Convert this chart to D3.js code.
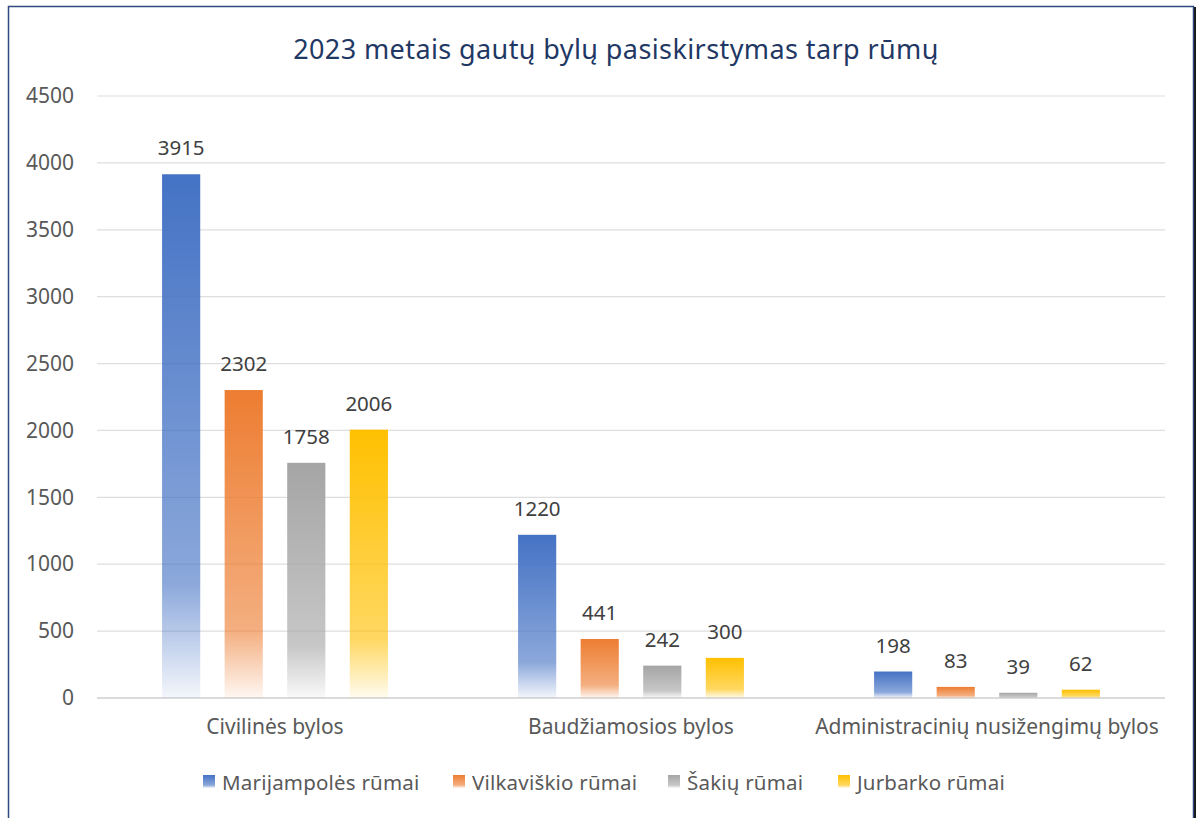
<!DOCTYPE html>
<html lang="lt">
<head>
<meta charset="UTF-8">
<title>2023 metais gautų bylų pasiskirstymas tarp rūmų</title>
<script src="https://d3js.org/d3.v7.min.js"></script>
<style>
body { margin: 0; background: #fff; }
svg { display: block; font-family: "Noto Sans", "Open Sans", sans-serif; }
</style>
</head>
<body>
<svg id="chart" width="1197" height="818"></svg>
<script>
// duomenys
const categories = ["Civilinės bylos", "Baudžiamosios bylos", "Administracinių nusižengimų bylos"];
const seriesNames = ["Marijampolės rūmai", "Vilkaviškio rūmai", "Šakių rūmai", "Jurbarko rūmai"];
const seriesColors = ["#4472C4", "#ED7D31", "#A5A5A5", "#FFC000"];
const marijampole = [3915, 1220, 198];
const vilkaviskis = [2302, 441, 83];
const sakiai = [1758, 242, 39];
const jurbarkas = [2006, 300, 62];
const yTicks = [0, 500, 1000, 1500, 2000, 2500, 3000, 3500, 4000, 4500];

const values = [marijampole, vilkaviskis, sakiai, jurbarkas];

const width = 1197, height = 818;
const margin = {top: 96, right: 32, bottom: 120, left: 97};
const fontFam = "'Noto Sans', 'Open Sans', sans-serif";

const svg = d3.select("#chart");

// remelis
svg.append("rect")
    .attr("x", 8.5).attr("y", 6.5)
    .attr("width", 1185).attr("height", 840)
    .attr("fill", "#fff")
    .attr("stroke", "#2F4A7E")
    .attr("stroke-width", 1.5);
svg.append("line")
    .attr("x1", 1195).attr("x2", 1195).attr("y1", 7).attr("y2", 818)
    .attr("stroke", "#1a1a1a").attr("stroke-width", 2);

// gradientai
const defs = svg.append("defs");
seriesColors.forEach((c, i) => {
    const g = defs.append("linearGradient")
        .attr("id", "grad" + i)
        .attr("x1", 0).attr("y1", 0).attr("x2", 0).attr("y2", 1);
    g.append("stop").attr("offset", "0%").attr("stop-color", c).attr("stop-opacity", 1);
    g.append("stop").attr("offset", "78%").attr("stop-color", c).attr("stop-opacity", 0.62);
    g.append("stop").attr("offset", "100%").attr("stop-color", c).attr("stop-opacity", 0.06);
});

// pavadinimas
svg.append("text")
    .attr("x", 616).attr("y", 59)
    .attr("text-anchor", "middle")
    .attr("fill", "#1F3864")
    .attr("font-size", 27)
    .attr("letter-spacing", 0.4)
    .text("2023 metais gautų bylų pasiskirstymas tarp rūmų");

const x0 = d3.scaleBand()
    .domain(categories)
    .range([margin.left, width - margin.right])
    .padding(0);

const x1 = d3.scaleBand()
    .domain(seriesNames)
    .range([0, x0.bandwidth()])
    .paddingInner(0.39)
    .paddingOuter(1.04);

const y = d3.scaleLinear()
    .domain([0, 4500])
    .range([height - margin.bottom, margin.top]);

// tinklelis
svg.append("g")
    .selectAll("line")
    .data(yTicks)
    .join("line")
    .attr("x1", margin.left).attr("x2", width - margin.right)
    .attr("y1", d => y(d)).attr("y2", d => y(d))
    .attr("stroke", d => d === 0 ? "#CFCFCF" : "#DEDEDE")
    .attr("stroke-width", d => d === 0 ? 1.6 : 1.2);

// y asis
const yAxis = svg.append("g")
    .attr("transform", `translate(${margin.left - 23},0)`)
    .call(d3.axisLeft(y).tickValues(yTicks).tickFormat(d3.format("d")).tickSize(0).tickPadding(0));
yAxis.select(".domain").remove();
yAxis.selectAll("text")
    .attr("font-family", fontFam)
    .attr("font-size", 21)
    .attr("fill", "#595959");

// x asis
const xAxis = svg.append("g")
    .attr("transform", `translate(0,${height - margin.bottom})`)
    .call(d3.axisBottom(x0).tickSize(0).tickPadding(21));
xAxis.select(".domain").remove();
xAxis.selectAll("text")
    .attr("font-family", fontFam)
    .attr("font-size", 21)
    .attr("fill", "#595959");

// stulpeliai
const groups = svg.append("g")
    .selectAll("g")
    .data(seriesNames)
    .join("g");

groups.each(function (s, si) {
    const g = d3.select(this);
    const vals = values[si];
    g.selectAll("rect")
        .data(categories)
        .join("rect")
        .attr("x", (c) => x0(c) + x1(s))
        .attr("y", (c, ci) => y(vals[ci]))
        .attr("width", x1.bandwidth())
        .attr("height", (c, ci) => y(0) - y(vals[ci]))
        .attr("fill", `url(#grad${si})`);
    g.selectAll("text")
        .data(categories)
        .join("text")
        .attr("x", (c) => x0(c) + x1(s) + x1.bandwidth() / 2)
        .attr("y", (c, ci) => y(vals[ci]) - 19)
        .attr("text-anchor", "middle")
        .attr("font-size", 20.5)
        .attr("fill", "#404040")
        .text((c, ci) => vals[ci]);
});

// legenda
const legendX = [203, 453, 668, 838];
const legend = svg.append("g")
    .selectAll("g")
    .data(seriesNames)
    .join("g")
    .attr("transform", (d, i) => `translate(${legendX[i]},782)`);
legend.append("rect")
    .attr("x", 0).attr("y", -7)
    .attr("width", 12).attr("height", 13)
    .attr("fill", (d, i) => `url(#grad${i})`);
legend.append("text")
    .attr("x", 19).attr("y", 7.5)
    .attr("font-size", 20.5)
    .attr("letter-spacing", 0.2)
    .attr("fill", "#595959")
    .text(d => d);
</script>
</body>
</html>
